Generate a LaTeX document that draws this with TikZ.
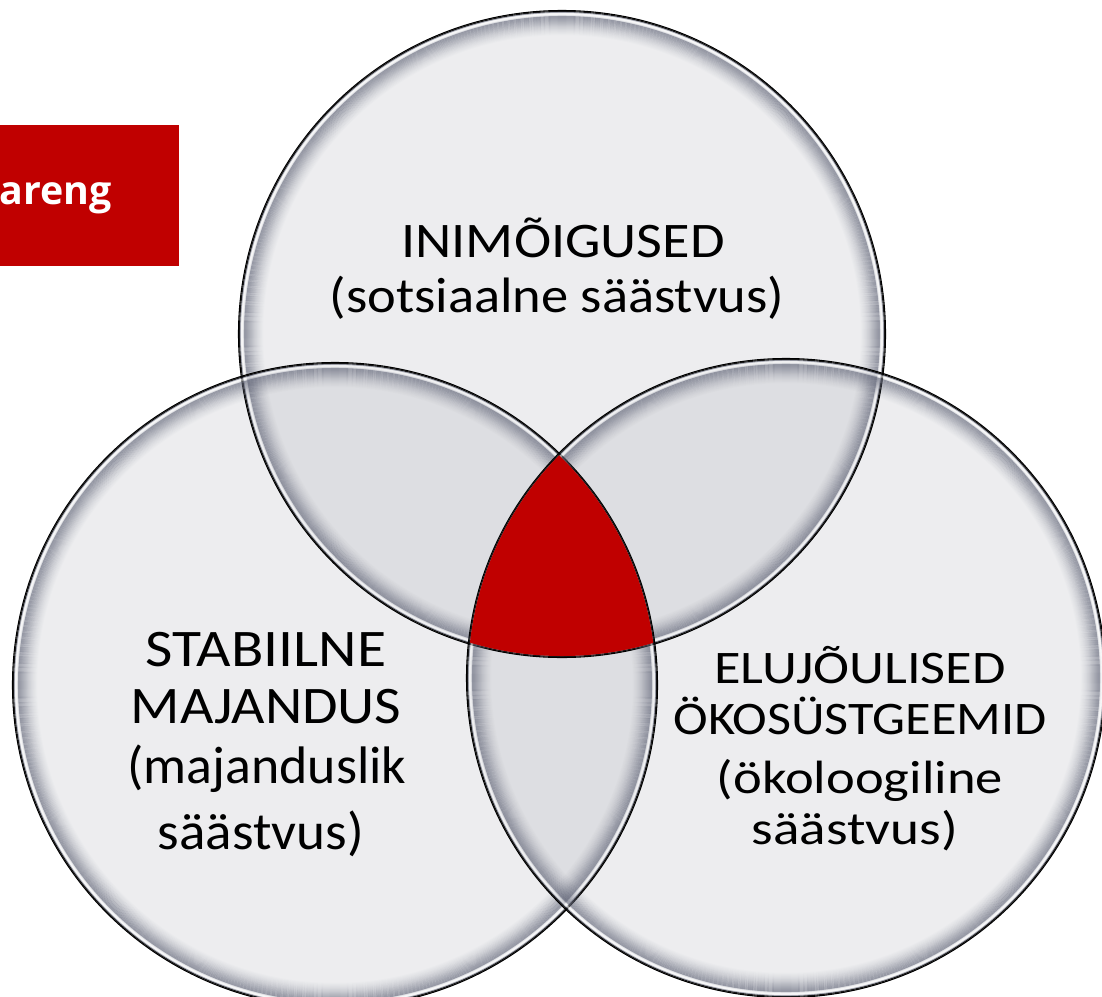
\documentclass[tikz,border=0pt]{standalone}
\usepackage{fontspec}
\setmainfont{Carlito}
\newfontfamily\boxfont{Open Sans}
\definecolor{venred}{RGB}{192,0,0}
\definecolor{vfill}{RGB}{140,143,155}
\definecolor{rimgray}{RGB}{100,104,122}
\definecolor{rimlight}{RGB}{205,207,214}
\newcommand{\widetext}[2]{{\addfontfeature{FakeStretch=#1}#2}}
\begin{document}
\begin{tikzpicture}[x=0.75pt,y=-0.75pt,
  lbltop/.style={font=\fontsize{37.3}{40}\selectfont, text=black, inner sep=0pt, anchor=base},
  lblleft/.style={font=\fontsize{39.6}{42}\selectfont, text=black, inner sep=0pt, anchor=base},
  lblright/.style={font=\fontsize{35}{38}\selectfont, text=black, inner sep=0pt, anchor=base},
  boxlbl/.style={font=\boxfont\bfseries\fontsize{29.5}{33}\selectfont, text=white, inner sep=0pt, anchor=base east},
  venfill/.style={fill=vfill, fill opacity=0.16}]
\useasboundingbox (0,0) rectangle (1102,996);
\coordinate (cT) at (562,334);
\coordinate (cL) at (335,685);
\coordinate (cR) at (786,678);
\def\rT{324}\def\rL{323}\def\rR{320}
% red label box
\fill[venred] (0,125) rectangle (179,266);
\node[boxlbl] (boxtext) at (112,204) {areng};
% fills
\fill[venfill] (cT) circle[radius=\rT];
\fill[venfill] (cL) circle[radius=\rL];
\fill[venfill] (cR) circle[radius=\rR];
% rims
\foreach \cc/\rr in {cT/\rT, cL/\rL, cR/\rR}{
  \foreach \d/\col/\op in {0/black/1, 1/black/0.9, 2/rimgray/0.5, 3/white/0.6, 4/white/0.5,
      5/rimlight/0.3, 6/rimgray/0.6, 7/rimgray/0.57, 8/rimgray/0.54, 9/rimgray/0.5,
      10/rimgray/0.46, 11/rimgray/0.42, 12/rimgray/0.38, 13/rimgray/0.34, 14/rimgray/0.3,
      15/rimgray/0.26, 16/rimgray/0.22, 17/rimgray/0.19, 18/rimgray/0.16, 19/rimgray/0.13,
      20/rimgray/0.1, 21/rimgray/0.08, 22/rimgray/0.06, 23/rimgray/0.04, 24/rimgray/0.02}{
    \draw[draw=\col, draw opacity=\op, line width=0.8pt] (\cc) circle[radius=\rr-\d-0.5];
  }
}
% red centre
\begin{scope}
  \clip (cT) circle[radius=\rT-2];
  \clip (cL) circle[radius=\rL-2];
  \fill[venred] (cR) circle[radius=\rR-2];
\end{scope}
% texts
\node[lbltop] (t1) at (563,257) {\widetext{1.13}{INIMÕIGUSED}};
\node[lbltop] (t2) at (557,312) {\widetext{1.095}{(sotsiaalne säästvus)}};
\node[lblleft] (l1) at (266,666) {\widetext{1.128}{STABIILNE}};
\node[lblleft] (l2) at (266,723) {\widetext{1.094}{MAJANDUS}};
\node[lblleft] (l3) at (267,783) {\widetext{1.02}{(majanduslik}};
\node[lblleft] (l4) at (261,849) {\widetext{1.045}{säästvus)}};
\node[lblright] (r1) at (860,683) {\widetext{1.164}{ELUJÕULISED}};
\node[lblright] (r2) at (860,734) {\widetext{1.12}{ÖKOSÜSTGEEMID}};
\node[lblright] (r3) at (860,793) {\widetext{1.169}{(ökoloogiline}};
\node[lblright] (r4) at (855,844) {\widetext{1.183}{säästvus)}};
\end{tikzpicture}
\end{document}
